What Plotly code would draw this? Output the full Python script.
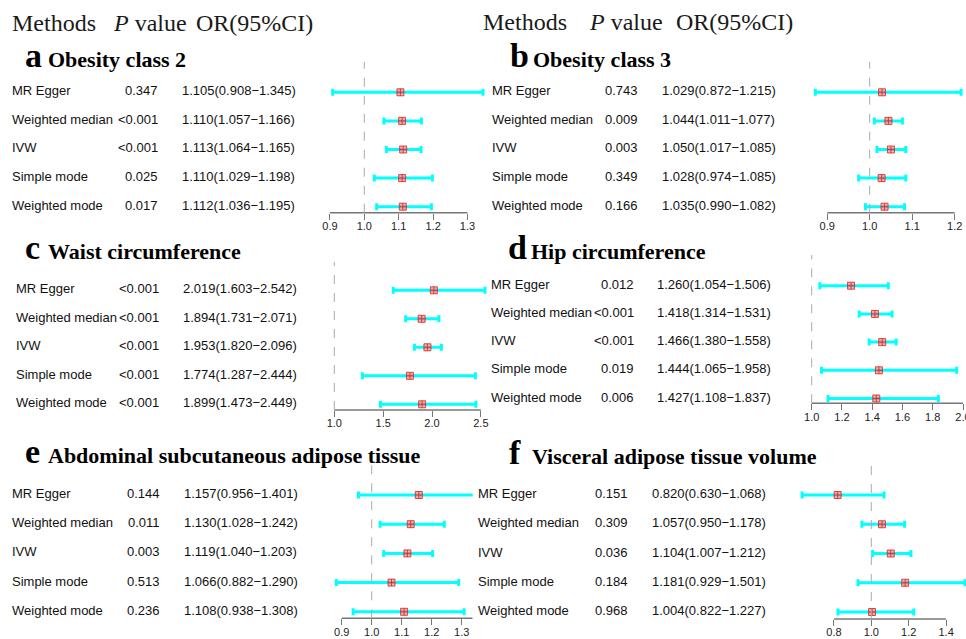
import plotly.graph_objects as go

# ---------------- data ----------------
methods = ["MR Egger", "Weighted median", "IVW", "Simple mode", "Weighted mode"]
letters = ["a", "b", "c", "d", "e", "f"]
titles = ["Obesity class 2", "Obesity class 3", "Waist circumference",
          "Hip circumference", "Abdominal subcutaneous adipose tissue",
          "Visceral adipose tissue volume"]

or_a = [1.105, 1.110, 1.113, 1.110, 1.112]
lo_a = [0.908, 1.057, 1.064, 1.029, 1.036]
hi_a = [1.345, 1.166, 1.165, 1.198, 1.195]
p_a = ["0.347", "<0.001", "<0.001", "0.025", "0.017"]

or_b = [1.029, 1.044, 1.050, 1.028, 1.035]
lo_b = [0.872, 1.011, 1.017, 0.974, 0.990]
hi_b = [1.215, 1.077, 1.085, 1.085, 1.082]
p_b = ["0.743", "0.009", "0.003", "0.349", "0.166"]

or_c = [2.019, 1.894, 1.953, 1.774, 1.899]
lo_c = [1.603, 1.731, 1.820, 1.287, 1.473]
hi_c = [2.542, 2.071, 2.096, 2.444, 2.449]
p_c = ["<0.001", "<0.001", "<0.001", "<0.001", "<0.001"]

or_d = [1.260, 1.418, 1.466, 1.444, 1.427]
lo_d = [1.054, 1.314, 1.380, 1.065, 1.108]
hi_d = [1.506, 1.531, 1.558, 1.958, 1.837]
p_d = ["0.012", "<0.001", "<0.001", "0.019", "0.006"]

or_e = [1.157, 1.130, 1.119, 1.066, 1.108]
lo_e = [0.956, 1.028, 1.040, 0.882, 0.938]
hi_e = [1.401, 1.242, 1.203, 1.290, 1.308]
p_e = ["0.144", "0.011", "0.003", "0.513", "0.236"]

or_f = [0.820, 1.057, 1.104, 1.181, 1.004]
lo_f = [0.630, 0.950, 1.007, 0.929, 0.822]
hi_f = [1.068, 1.178, 1.212, 1.501, 1.227]
p_f = ["0.151", "0.309", "0.036", "0.184", "0.968"]

ticks_a = [0.9, 1.0, 1.1, 1.2, 1.3]
ticks_b = [0.9, 1.0, 1.1, 1.2]
ticks_c = [1.0, 1.5, 2.0, 2.5]
ticks_d = [1.0, 1.2, 1.4, 1.6, 1.8, 2.0]
ticks_e = [0.9, 1.0, 1.1, 1.2, 1.3]
ticks_f = [0.8, 1.0, 1.2, 1.4]

header_words = ["Methods", "<i>P</i> value", "OR(95%CI)"]

ORS = [or_a, or_b, or_c, or_d, or_e, or_f]
LOS = [lo_a, lo_b, lo_c, lo_d, lo_e, lo_f]
HIS = [hi_a, hi_b, hi_c, hi_d, hi_e, hi_f]
PS = [p_a, p_b, p_c, p_d, p_e, p_f]
TICKS = [ticks_a, ticks_b, ticks_c, ticks_d, ticks_e, ticks_f]

# ---------------- layout geometry (pixels) ----------------
W, H = 966, 639
G = [
    dict(x1=364.3, s=344.0, dom=(318, 495), row0=92.3, dy=28.6, axis=212.7, top=62,
         mx=12, px=157.5, ox=181.5, tx=25, tb=66.7, axis_end=None),
    dict(x1=869.7, s=425.0, dom=(805, 966), row0=92.3, dy=28.6, axis=212.7, top=62,
         mx=492, px=638, ox=662, tx=509.5, tb=66.7, axis_end=None),
    dict(x1=334.3, s=97.7, dom=(325, 495), row0=290.3, dy=28.5, axis=410, top=261.7,
         mx=15.7, px=159, ox=182.7, tx=25, tb=259, axis_end=None),
    dict(x1=811.7, s=151.3, dom=(800, 966), row0=285.7, dy=28.2, axis=403.3, top=255,
         mx=491.3, px=633.7, ox=657, tx=508, tb=259, axis_end=None),
    dict(x1=371.7, s=300.0, dom=(330, 472.7), row0=495, dy=29.2, axis=618.3, top=465,
         mx=11.7, px=160, ox=184, tx=25, tb=463.3, axis_end=1.3367),
    dict(x1=871.3, s=187.0, dom=(790, 966), row0=495, dy=29.25, axis=619, top=463,
         mx=478, px=628, ox=652.3, tx=509, tb=464.3, axis_end=None),
]
HEADERS = [dict(xs=(12, 112.7, 196), base=31), dict(xs=(483, 589, 675.7), base=30.3)]

SANS = "Liberation Sans, Arial, sans-serif"
SERIF = "Liberation Serif, Times New Roman, serif"


def pxx(x):
    return x / W


def pxy(y):
    return 1 - y / H


fig = go.Figure()
annotations = []
shapes = []
layout_axes = {}

for k in range(6):
    g = G[k]
    n = "" if k == 0 else str(k + 1)
    xa, ya = "x" + n, "y" + n
    rows = list(range(len(methods)))
    ors, los, his = ORS[k], LOS[k], HIS[k]
    fig.add_trace(go.Scatter(
        x=ors, y=rows, xaxis=xa, yaxis=ya, mode="markers",
        marker=dict(symbol="square-cross", size=7, color="rgba(255,120,120,0.6)",
                    line=dict(color="rgba(215,40,40,0.85)", width=1)),
        error_x=dict(type="data", symmetric=False,
                     array=[h - o for h, o in zip(his, ors)],
                     arrayminus=[o - l for o, l in zip(ors, los)],
                     color="#00FFFF", thickness=3, width=3.5),
        hoverinfo="skip", cliponaxis=False, showlegend=False))

    xr = [1 + (g["dom"][0] - g["x1"]) / g["s"], 1 + (g["dom"][1] - g["x1"]) / g["s"]]
    yr = [(g["axis"] - g["row0"]) / g["dy"], (g["top"] - g["row0"]) / g["dy"]]
    tk = TICKS[k]
    layout_axes["xaxis" + n] = dict(
        domain=[pxx(g["dom"][0]), pxx(g["dom"][1])], range=xr, anchor=ya,
        showgrid=False, zeroline=False, showline=False, ticks="outside",
        ticklen=6, tickwidth=1.4, tickcolor="#777777",
        tickvals=tk, ticktext=["%.1f" % t for t in tk],
        tickfont=dict(family=SANS, size=11, color="#222222"),
        ticklabeloverflow="allow", ticklabelstandoff=-3,
        automargin=False, fixedrange=True)
    layout_axes["yaxis" + n] = dict(
        domain=[pxy(g["axis"]), pxy(g["top"])], range=yr, anchor=xa,
        visible=False, fixedrange=True)

    end = g["axis_end"] if g["axis_end"] is not None else tk[-1]
    shapes.append(dict(type="line", xref=xa, yref=ya + " domain", x0=tk[0], x1=end,
                       y0=0, y1=0, line=dict(color="#777777", width=1.4)))
    shapes.append(dict(type="line", xref=xa, yref=ya + " domain", x0=1, x1=1,
                       y0=0, y1=1, line=dict(color="#aaaaaa", width=1, dash="dash")))

    for i, m in enumerate(methods):
        common = dict(yref=ya, y=rows[i], xref="paper", showarrow=False, yanchor="middle",
                      borderpad=0, borderwidth=0, yshift=1.5,
                      font=dict(family=SANS, size=13, color="#111111"))
        annotations.append(dict(text=m, x=pxx(g["mx"]), xanchor="left", **common))
        annotations.append(dict(text=PS[k][i], x=pxx(g["px"]), xanchor="right", **common))
        annotations.append(dict(
            text="%.3f(%.3f\u2212%.3f)" % (ors[i], los[i], his[i]),
            x=pxx(g["ox"]), xanchor="left", **common))

    fs_l, fs_t = 34, 22
    annotations.append(dict(
        text=letters[k], x=pxx(g["tx"]), y=pxy(g["tb"] - 0.3375 * fs_l),
        xref="paper", yref="paper", xanchor="left", yanchor="middle", showarrow=False,
        borderpad=0, borderwidth=0,
        font=dict(family=SERIF, size=fs_l, color="#000000", weight="bold")))
    annotations.append(dict(
        text=titles[k], x=pxx(g["tx"] + 23), y=pxy(g["tb"] - 0.3375 * fs_t),
        xref="paper", yref="paper", xanchor="left", yanchor="middle", showarrow=False,
        borderpad=0, borderwidth=0,
        font=dict(family=SERIF, size=fs_t, color="#000000", weight="bold")))

for h in HEADERS:
    for xw, word in zip(h["xs"], header_words):
        fs = 24
        annotations.append(dict(
            text=word, x=pxx(xw), y=pxy(h["base"] - 0.3375 * fs),
            xref="paper", yref="paper", xanchor="left", yanchor="middle",
            showarrow=False, borderpad=0, borderwidth=0,
            font=dict(family=SERIF, size=fs, color="#1a1a1a")))

fig.update_layout(
    width=W, height=H, margin=dict(l=0, r=0, t=0, b=0),
    paper_bgcolor="white", plot_bgcolor="rgba(0,0,0,0)",
    showlegend=False, annotations=annotations, shapes=shapes, **layout_axes)

fig.write_html("out.html", config={"displayModeBar": False},
               post_script="document.body.style.margin='0';document.body.style.overflow='hidden';")
